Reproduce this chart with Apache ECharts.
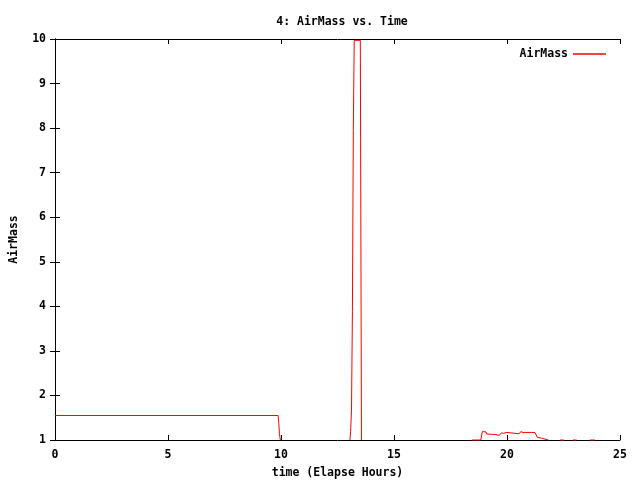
<!DOCTYPE html>
<html>
<head>
<meta charset="utf-8">
<script src="https://cdn.jsdelivr.net/npm/echarts@6/dist/echarts.min.js"></script>
<style>html,body{margin:0;padding:0;background:#fff}#c{width:640px;height:480px}</style>
</head>
<body>
<div id="c"></div>
<script>
var titleText = '4: AirMass vs. Time';
var xName = 'time (Elapse Hours)';
var yName = 'AirMass';
var seriesName = 'AirMass';
// time in hours (null = gap in the data)
var timeHours = [
  0, 9.87, 9.90, 9.93, 9.97, null,
  13.05, 13.08, 13.12, 13.16, 13.20, 13.24, 13.51, 13.535, 13.56, null,
  18.46, 18.84, 18.91, 19.07, 19.10, 19.29, 19.51, 19.53, 19.66, 19.75, 19.84, 19.86, 19.99, 20.02, 20.35, 20.54, 20.61, 20.70, 21.09, 21.24, 21.34, 21.36, 21.54, 21.56, 21.83, null,
  22.35, 22.43, 22.52, null,
  22.92, 23.08, null,
  23.67, 23.89
];
var airMass = [
  1.55, 1.55, 1.40, 1.15, 1.0, null,
  1.0, 1.19, 1.67, 3.89, 7.94, 9.97, 9.97, 5.49, 1.0, null,
  1.0, 1.0, 1.19, 1.18, 1.135, 1.13, 1.12, 1.105, 1.105, 1.16, 1.15, 1.17, 1.17, 1.15, 1.15, 1.14, 1.19, 1.17, 1.17, 1.165, 1.06, 1.04, 1.04, 1.0, 1.0, null,
  1.0, 1.03, 1.0, null,
  1.0, 1.0, null,
  1.0, 1.0
];
var data = timeHours.map(function (t, i) {
  return (t === null || airMass[i] === null) ? [null, null] : [t, airMass[i]];
});
var font = 'DejaVu Sans Mono';
var txt = {color: '#000', fontFamily: font, fontWeight: 'bold', fontSize: 11.5};
var chart = echarts.init(document.getElementById('c'), null, {renderer: 'canvas'});
var tick = {show: true, inside: true, length: 5, lineStyle: {color: '#000', width: 1}};
var line = {show: true, lineStyle: {color: '#000', width: 1}};
chart.setOption({
  animation: false,
  backgroundColor: '#fff',
  title: {text: titleText, left: 337, textAlign: 'center', top: 11,
    textStyle: txt},
  legend: {
    data: [{name: seriesName, icon: 'rect'}],
    right: 29, top: 43, align: 'right', itemWidth: 33, itemHeight: 1.5, itemGap: 8,
    textStyle: txt
  },
  grid: {left: 55, right: 20, top: 39, bottom: 40, containLabel: false, outerBoundsMode: 'none'},
  xAxis: [
    {type: 'value', min: 0, max: 25, interval: 5, position: 'bottom',
      name: xName, nameLocation: 'middle', nameGap: 27, nameTextStyle: txt,
      axisLine: line, axisTick: tick, axisLabel: Object.assign({margin: 9}, txt), splitLine: {show: false}},
    {type: 'value', min: 0, max: 25, interval: 5, position: 'top',
      axisLine: line, axisTick: tick, axisLabel: {show: false}, splitLine: {show: false}}
  ],
  yAxis: [
    {type: 'value', min: 1, max: 10, interval: 1, position: 'left',
      name: yName, nameLocation: 'middle', nameGap: 35, nameRotate: 90, nameTextStyle: txt,
      axisLine: line, axisTick: tick, axisLabel: Object.assign({margin: 9}, txt), splitLine: {show: false}},
    {type: 'value', min: 1, max: 10, interval: 1, position: 'right',
      axisLine: line, axisTick: tick, axisLabel: {show: false}, splitLine: {show: false}}
  ],
  series: [{
    name: seriesName, type: 'line', data: data, xAxisIndex: 0, yAxisIndex: 0,
    showSymbol: false, symbol: 'none', connectNulls: false, clip: false,
    color: '#ff0000', lineStyle: {color: '#ff0000', width: 1}, z: 5
  }]
});
</script>
</body>
</html>
